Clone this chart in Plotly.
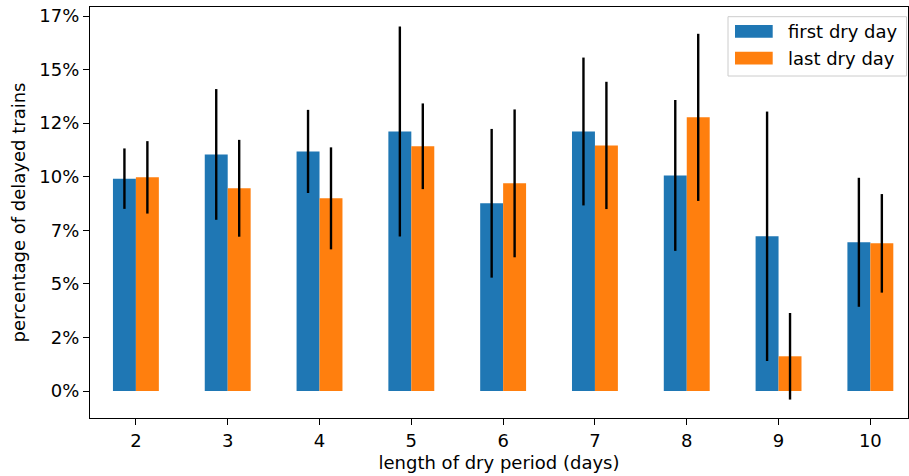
import plotly.graph_objects as go

days = [2, 3, 4, 5, 6, 7, 8, 9, 10]
first_dry = [9.91, 11.04, 11.18, 12.11, 8.76, 12.11, 10.06, 7.22, 6.94]
first_err = [1.41, 3.05, 1.94, 4.90, 3.47, 3.45, 3.52, 5.82, 3.01]
last_dry = [9.97, 9.46, 8.99, 11.42, 9.69, 11.46, 12.77, 1.62, 6.89]
last_err = [1.69, 2.26, 2.38, 2.00, 3.45, 2.97, 3.90, 2.02, 2.30]
ytick_vals = [0, 2.5, 5, 7.5, 10, 12.5, 15, 17.5]
ytick_text = ["0%", "2%", "5%", "7%", "10%", "12%", "15%", "17%"]
series_names = ["first dry day", "last dry day"]
colors = ["#1f77b4", "#ff7f0e"]

FONT = "DejaVu Sans"
FS = 18
W, H = 909, 476
ML, MR, MT, MB = 90, 1, 7, 58

fig = go.Figure()
for name, vals, errs, col, off in [
    (series_names[0], first_dry, first_err, colors[0], -0.25),
    (series_names[1], last_dry, last_err, colors[1], 0.0),
]:
    fig.add_trace(go.Bar(
        x=days, y=vals, name=name, width=0.25, offset=off,
        marker=dict(color=col, line=dict(width=0)),
        error_y=dict(type="data", array=errs, visible=True, color="black",
                     thickness=2.4, width=0),
        showlegend=False,
    ))

axis_common = dict(
    showline=True, linecolor="black", linewidth=1.3, mirror=True,
    ticks="outside", ticklen=6, tickwidth=1.3, tickcolor="black",
    showgrid=False, zeroline=False,
    tickfont=dict(family=FONT, size=FS, color="black"),
)

fig.update_layout(
    width=W, height=H,
    margin=dict(l=ML, r=MR, t=MT, b=MB),
    plot_bgcolor="white", paper_bgcolor="white",
    barmode="overlay",
    font=dict(family=FONT, size=FS, color="black"),
    xaxis=dict(range=[1.5, 10.41], tickvals=days, ticktext=[str(d) for d in days],
               title=dict(text="length of dry period (days)", standoff=6,
                          font=dict(family=FONT, size=FS, color="black")),
               **axis_common),
    yaxis=dict(range=[-1.26, 17.92], tickvals=ytick_vals, ticktext=ytick_text,
               title=dict(text="percentage of delayed trains", standoff=8,
                          font=dict(family=FONT, size=FS, color="black")),
               **axis_common),
)

# manual legend (matplotlib style)
pw, ph = W - ML - MR, H - MT - MB
def px(x): return (x - ML) / pw
def py(y): return (H - MB - y) / ph

fig.add_shape(type="rect", xref="paper", yref="paper",
              x0=px(728), x1=px(906.5), y0=py(76), y1=py(16.7),
              line=dict(color="#cccccc", width=1), fillcolor="rgba(255,255,255,0.8)")
for i, (name, col) in enumerate(zip(series_names, colors)):
    ytop = 25 + i * 26.7
    fig.add_shape(type="rect", xref="paper", yref="paper",
                  x0=px(735), x1=px(772.7), y0=py(ytop + 12.7), y1=py(ytop),
                  line=dict(width=0), fillcolor=col)
    fig.add_annotation(xref="paper", yref="paper", x=px(786), y=py(ytop + 6.5),
                       text=name, showarrow=False, xanchor="left", yanchor="middle",
                       font=dict(family=FONT, size=FS, color="black"))

fig.write_html("out.html")
